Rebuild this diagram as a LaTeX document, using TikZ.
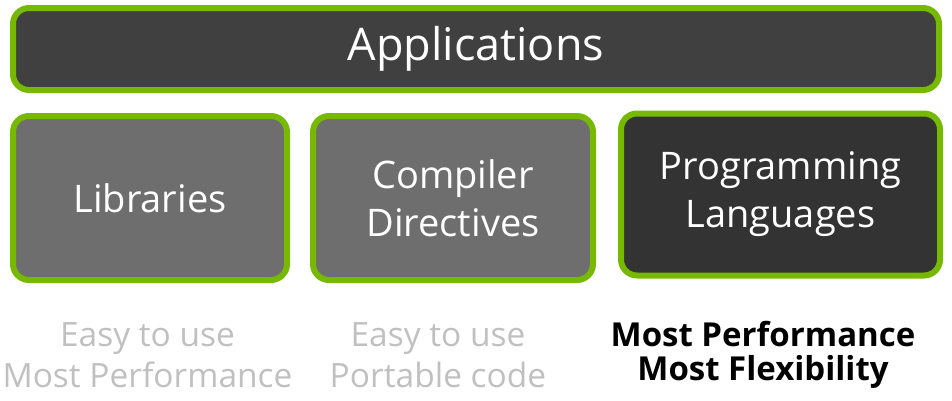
\documentclass[tikz,border=0pt]{standalone}
\usepackage{fontspec}
\setmainfont{Open Sans}
\definecolor{nvgreen}{HTML}{76B900}
\definecolor{darkfill}{HTML}{404040}
\definecolor{midfill}{HTML}{6E6E6E}
\definecolor{blackfill}{HTML}{333333}
\definecolor{lightgray}{HTML}{C0C0C0}
\tikzset{
  blk/.style={draw=nvgreen, line width=6pt, rounded corners=16pt, text=white,
    font=\fontsize{38}{48}\selectfont, align=center, inner sep=0pt},
  note/.style={align=center, inner sep=0pt, font=\fontsize{33.5}{41}\selectfont},
}
\begin{document}
\begin{tikzpicture}[x=1pt,y=-1pt]
\useasboundingbox (0,0) rectangle (952,400);
\node[blk, fill=darkfill, minimum width=926pt, minimum height=82pt, font=\fontsize{45}{50}\selectfont] (app) at (476,49) {Applications};
\node[blk, fill=midfill, minimum width=274pt, minimum height=164pt] (lib) at (150,198) {Libraries};
\node[blk, fill=midfill, minimum width=280pt, minimum height=164pt] (comp) at (453,198) {Compiler\\Directives};
\node[blk, fill=blackfill, minimum width=319pt, minimum height=162pt] (prog) at (780.5,194.5) {Programming\\Languages};
\node[note, text=lightgray] (n1) at (147.5,355) {Easy to use\\Most Performance};
\node[note, text=black, font=\fontsize{33}{33.5}\selectfont\bfseries] (n3) at (763,355) {Most Performance\\Most Flexibility};
\node[note, text=lightgray] (n2) at (438,355) {Easy to use\\Portable code};
\end{tikzpicture}
\end{document}
